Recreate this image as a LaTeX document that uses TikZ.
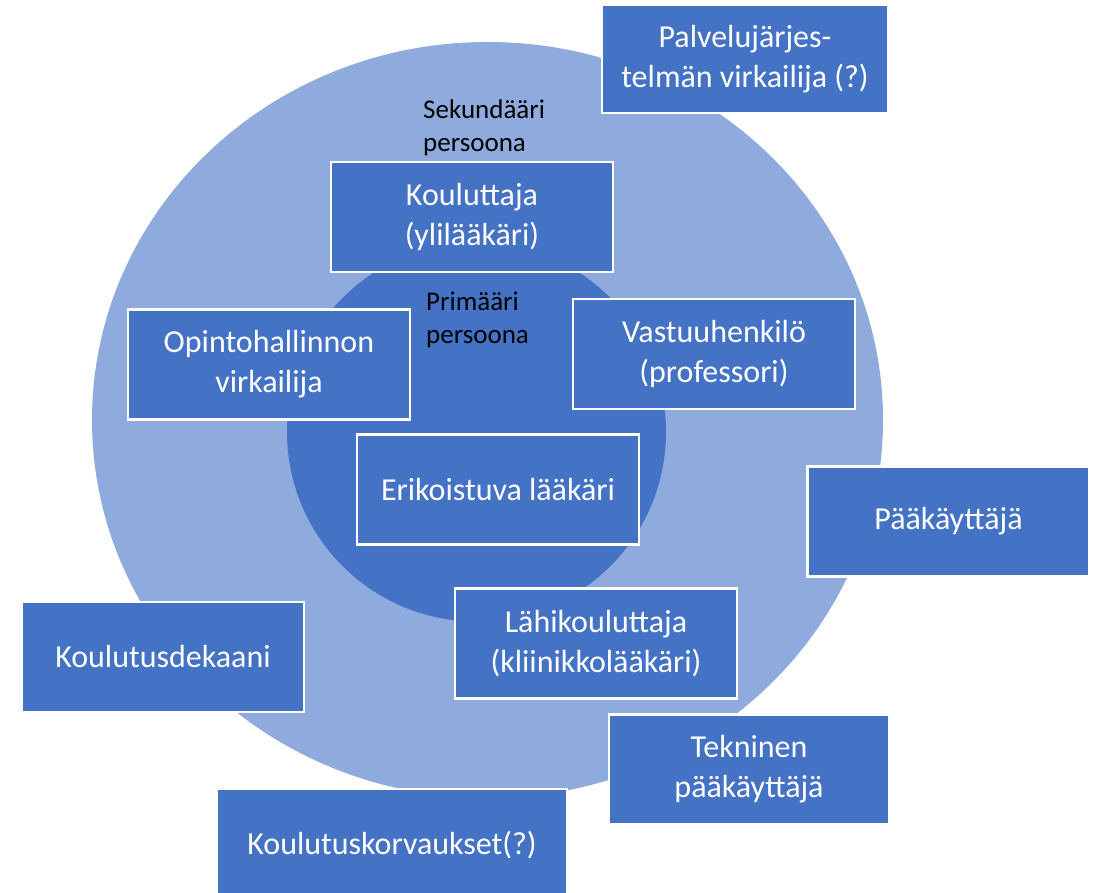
\documentclass[tikz,border=0pt]{standalone}
\usepackage{fontspec}
\setmainfont{Carlito}
\definecolor{outerblue}{HTML}{8FAADC}
\definecolor{boxblue}{HTML}{4472C4}
\tikzset{
    persona/.style={draw=white, line width=2.2pt, fill=boxblue, text=white,
        minimum width=282pt, minimum height=110pt, align=center, inner sep=0pt,
        font=\fontsize{32}{40}\selectfont},
    ringlabel/.style={align=left, anchor=north west, inner sep=0pt,
        font=\fontsize{27}{33}\selectfont}
}
\begin{document}
\begin{tikzpicture}[x=1pt, y=-1pt]
\useasboundingbox (0, 0) rectangle (1102, 893);

\fill[outerblue]
    (487.5, 420) ellipse [x radius=395.5, y radius=378];
\fill[boxblue]
    (476.5, 432) circle [radius=189.5];

\node[persona, minimum width=286pt, minimum height=108pt] (palvelu) at (745, 59)
    {Palvelujärjes-\\telmän virkailija (?)};
\node[persona] (kouluttaja) at (472, 217) {Kouluttaja\\(ylilääkäri)};
\node[persona] (opinto) at (269, 364.5) {Opintohallinnon\\virkailija};
\node[persona] (vastuu) at (714, 354) {Vastuuhenkilö\\(professori)};
\node[persona] (erikoistuva) at (498, 489.5) {Erikoistuva lääkäri};
\node[persona] (paakayttaja) at (948.5, 521.5) {Pääkäyttäjä};
\node[persona] (lahi) at (596, 643.5) {Lähikouluttaja\\(kliinikkolääkäri)};
\node[persona] (dekaani) at (163, 657) {Koulutusdekaani};
\node[persona, minimum width=280pt] (tekninen) at (749, 769.5) {Tekninen\\pääkäyttäjä};
\node[persona, minimum width=350pt, minimum height=112pt] (korvaukset) at (392, 845)
    {Koulutuskorvaukset(?)};

\node[ringlabel] (sekundaari) at (423, 100) {Sekundääri\\persoona};
\node[ringlabel] (primaari) at (426, 292) {Primääri\\persoona};
\end{tikzpicture}
\end{document}
